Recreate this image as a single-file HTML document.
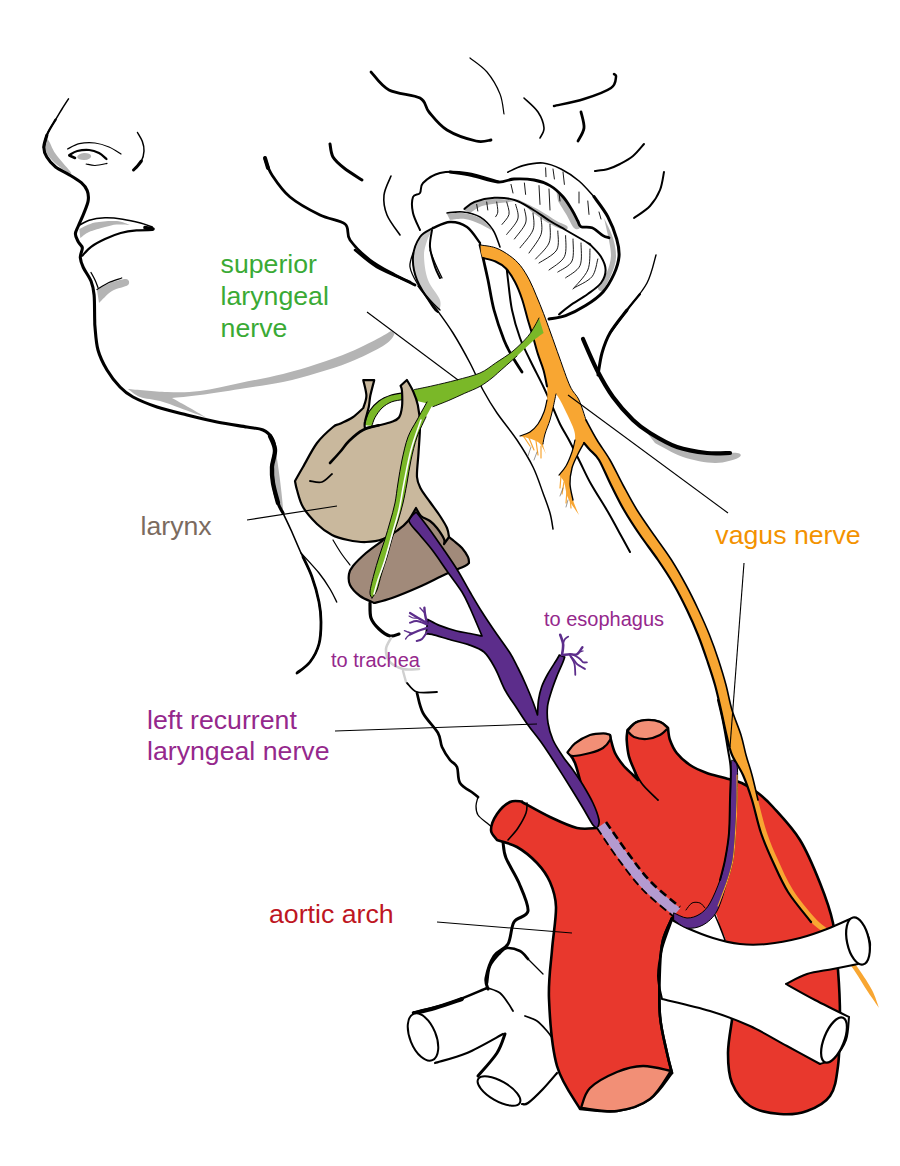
<!DOCTYPE html>
<html><head><meta charset="utf-8"><title>Recurrent laryngeal nerve</title>
<style>
html,body{margin:0;padding:0;background:#fff;}
body{width:900px;height:1166px;overflow:hidden;}
svg{display:block;}
text{font-family:"Liberation Sans",sans-serif;}
path{stroke-linecap:round;stroke-linejoin:round;}
</style></head><body>
<svg width="900" height="1166" viewBox="0 0 900 1166">
<rect width="900" height="1166" fill="#fff"/>
<path d="M46.5 137.0C46.2 138.8 44.4 144.5 45.0 148.0C45.6 151.5 47.3 154.7 50.0 158.0C52.7 161.3 57.4 165.4 61.0 168.0C64.6 170.6 71.2 174.3 71.5 173.5C71.8 172.7 65.8 166.4 63.0 163.0C60.2 159.6 57.2 156.3 55.0 153.0C52.8 149.7 50.8 144.7 50.0 143.0Z" fill="#b4b4b4" stroke="none" stroke-width="0" />
<path d="M79.3 229.0C81.9 227.9 88.8 223.8 95.0 222.5C101.2 221.2 111.0 220.6 116.8 221.0C122.6 221.4 127.8 224.3 130.0 225.0L130.0 225.0C127.8 224.9 121.0 224.2 116.8 224.5C112.6 224.8 109.6 225.8 105.0 227.0C100.4 228.2 93.1 230.2 89.0 232.0C84.9 233.8 81.8 237.0 80.3 238.0Z" fill="#b4b4b4" stroke="none" stroke-width="0" />
<path d="M97.0 290.0C99.2 288.8 105.2 284.8 110.0 283.0C114.8 281.2 123.0 278.7 126.0 279.0C129.0 279.3 130.3 283.0 128.0 285.0C125.7 287.0 116.8 288.0 112.0 291.0C107.2 294.0 101.2 301.0 99.0 303.0Z" fill="#b4b4b4" stroke="none" stroke-width="0" />
<path d="M128.0 389.0C134.5 389.5 155.0 391.7 167.0 392.0C179.0 392.3 187.8 392.5 200.0 391.0C212.2 389.5 226.2 385.8 240.0 383.0C253.8 380.2 270.2 377.2 283.0 374.0C295.8 370.8 305.8 367.7 317.0 364.0C328.2 360.3 340.0 356.2 350.0 352.0C360.0 347.8 370.2 342.5 377.0 339.0C383.8 335.5 388.7 332.3 391.0 331.0L391.0 331.0C391.5 331.7 395.3 332.5 394.0 335.0C392.7 337.5 390.3 341.5 383.0 346.0C375.7 350.5 361.0 357.5 350.0 362.0C339.0 366.5 328.2 369.7 317.0 373.0C305.8 376.3 295.8 379.3 283.0 382.0C270.2 384.7 253.8 386.8 240.0 389.0C226.2 391.2 211.3 393.5 200.0 395.0C188.7 396.5 176.7 397.5 172.0 398.0L172.0 398.0C175.0 399.7 184.2 404.7 190.0 408.0C195.8 411.3 204.2 416.3 207.0 418.0L207.0 418.0C202.5 416.3 187.8 410.8 180.0 408.0C172.2 405.2 166.7 402.8 160.0 401.0C153.3 399.2 145.3 399.0 140.0 397.0C134.7 395.0 130.0 390.3 128.0 389.0Z" fill="#b4b4b4" stroke="none" stroke-width="0" />
<path d="M276.0 452.0C276.7 456.7 278.8 470.0 280.0 480.0C281.2 490.0 283.5 508.7 283.0 512.0C282.5 515.3 278.7 505.7 277.0 500.0C275.3 494.3 273.7 481.7 273.0 478.0Z" fill="#b4b4b4" stroke="none" stroke-width="0" />
<path d="M648.0 434.0C652.8 436.3 667.2 444.7 677.0 448.0C686.8 451.3 697.0 453.2 707.0 454.0C717.0 454.8 731.8 452.3 737.0 453.0C742.2 453.7 741.7 456.3 738.0 458.0C734.3 459.7 724.2 463.2 715.0 463.0C705.8 462.8 693.0 460.3 683.0 457.0C673.0 453.7 659.7 445.3 655.0 443.0Z" fill="#b4b4b4" stroke="none" stroke-width="0" />
<path d="M68.5 98.9C67.4 100.6 64.2 105.5 62.0 109.0C59.9 112.5 57.5 116.4 55.6 119.6C53.7 122.8 52.0 125.4 50.5 128.0C49.0 130.6 47.9 132.2 46.8 135.4C45.7 138.6 44.3 145.2 43.8 147.2" fill="none" stroke="#000" stroke-width="1.5" />
<path d="M55.6 119.6C54.8 121.0 52.0 125.4 50.5 128.0C49.0 130.6 47.9 132.2 46.8 135.4C45.7 138.6 44.3 145.2 43.8 147.2" fill="none" stroke="#000" stroke-width="2.3" />
<path d="M46.8 135.4C46.3 137.4 43.8 143.6 43.8 147.2C43.8 150.8 44.8 153.7 46.8 157.0C48.8 160.3 51.8 164.0 55.6 167.0C59.4 170.0 65.1 172.2 69.4 174.8C73.7 177.4 78.3 180.1 81.3 182.7C84.3 185.3 86.0 187.6 87.2 190.6C88.4 193.6 88.7 196.9 88.2 200.5C87.7 204.1 85.9 208.1 84.2 212.3C82.5 216.6 79.8 222.4 78.3 226.0C76.8 229.6 75.4 231.3 75.4 234.0C75.4 236.7 77.2 239.6 78.3 241.9C79.4 244.2 82.0 245.2 82.3 247.8C82.6 250.4 80.1 254.4 80.3 257.7C80.5 261.0 81.5 263.6 83.3 267.5C85.1 271.4 89.3 276.7 91.1 281.3C92.9 285.9 93.5 288.6 94.1 295.0C94.7 301.4 94.5 314.7 94.7 320.0C94.9 325.3 94.5 322.0 95.0 327.0C95.5 332.0 96.0 342.8 98.0 350.0C100.0 357.2 103.3 363.8 107.0 370.0C110.7 376.2 115.7 382.5 120.0 387.0C124.3 391.5 126.8 393.7 133.0 397.0C139.2 400.3 148.0 404.0 157.0 407.0C166.0 410.0 177.0 412.5 187.0 415.0C197.0 417.5 207.0 420.0 217.0 422.0C227.0 424.0 239.3 425.7 247.0 427.0C254.7 428.3 258.8 428.2 263.0 430.0C267.2 431.8 270.0 434.7 272.0 438.0C274.0 441.3 275.0 445.2 275.0 450.0C275.0 454.8 272.3 461.5 272.0 467.0C271.7 472.5 272.0 477.0 273.0 483.0C274.0 489.0 276.3 498.0 278.0 503.0C279.7 508.0 282.2 511.3 283.0 513.0" fill="none" stroke="#000" stroke-width="3.1" />
<path d="M67.5 149.0C69.5 148.1 74.7 144.7 79.3 143.7C83.9 142.7 90.0 142.4 95.0 143.0C100.0 143.6 104.7 145.2 109.0 147.0C113.3 148.8 119.0 152.8 121.0 154.0" fill="none" stroke="#000" stroke-width="1.2" />
<path d="M69.4 155.0C70.7 154.3 74.0 151.8 77.3 151.0C80.6 150.2 85.6 149.7 89.2 150.0C92.8 150.3 96.1 151.5 99.0 153.0C101.9 154.5 105.2 158.0 106.5 159.0" fill="none" stroke="#000" stroke-width="2.2" />
<path d="M69.4 155.5L75.0 158.0" fill="none" stroke="#000" stroke-width="2.6" />
<path d="M86.2 164.0C87.7 164.2 91.5 165.6 95.0 165.5C98.5 165.4 105.0 163.8 107.0 163.4" fill="none" stroke="#000" stroke-width="1.2" />
<ellipse cx="84.2" cy="156.6" rx="7" ry="3.5" fill="#b4b4b4" transform="rotate(-3 84 157)"/>
<path d="M137.5 132.5C138.3 134.0 141.2 138.2 142.3 141.3C143.4 144.4 144.2 147.7 144.0 151.0C143.8 154.3 143.2 157.8 141.4 161.0C139.7 164.2 134.8 168.5 133.5 170.0" fill="none" stroke="#000" stroke-width="1.5" />
<path d="M141.4 161.0C140.8 161.8 138.8 164.5 137.5 166.0C136.2 167.5 134.2 169.3 133.5 170.0" fill="none" stroke="#000" stroke-width="3" />
<path d="M78.3 226.0C80.1 225.0 84.8 221.6 89.2 220.2C93.7 218.8 99.4 218.0 105.0 217.8C110.6 217.6 116.8 218.3 122.7 219.2C128.6 220.1 135.6 221.8 140.5 223.1C145.4 224.4 150.3 226.3 152.3 227.0" fill="none" stroke="#000" stroke-width="1.6" />
<path d="M152.3 230.0C149.7 230.1 141.8 229.9 136.5 230.4C131.2 230.9 126.0 231.6 120.7 233.0C115.5 234.4 109.9 236.7 105.0 239.0C100.1 241.3 94.9 244.0 91.1 246.8C87.3 249.6 83.8 254.2 82.3 255.7" fill="none" stroke="#000" stroke-width="2.2" />
<path d="M145.0 227.5L153.0 229.0" fill="none" stroke="#000" stroke-width="3.6" />
<path d="M91.0 272.5C91.7 273.8 93.8 277.5 95.0 280.0C96.2 282.5 97.5 286.2 98.0 287.5" fill="none" stroke="#000" stroke-width="1.3" />
<path d="M97.0 289.5C99.0 288.3 104.8 284.4 108.9 282.5C113.0 280.6 119.6 278.8 121.7 278.0" fill="none" stroke="#000" stroke-width="1.3" />
<path d="M270.0 436.0C270.8 438.3 274.7 444.8 275.0 450.0C275.3 455.2 272.3 461.5 272.0 467.0C271.7 472.5 272.0 477.0 273.0 483.0C274.0 489.0 277.2 499.7 278.0 503.0" fill="none" stroke="#000" stroke-width="4.4" />
<path d="M283.0 513.0C284.3 515.8 288.0 523.3 291.0 530.0C294.0 536.7 297.5 545.2 301.0 553.0C304.5 560.8 309.0 568.8 312.0 577.0C315.0 585.2 317.5 594.5 319.0 602.0C320.5 609.5 321.0 615.0 321.0 622.0C321.0 629.0 320.8 637.3 319.0 644.0C317.2 650.7 313.7 657.2 310.0 662.0C306.3 666.8 299.2 671.2 297.0 673.0" fill="none" stroke="#000" stroke-width="1.6" />
<path d="M303.0 557.0C304.5 560.3 309.3 569.5 312.0 577.0C314.7 584.5 317.5 594.5 319.0 602.0C320.5 609.5 321.0 615.0 321.0 622.0C321.0 629.0 320.8 637.3 319.0 644.0C317.2 650.7 313.7 657.2 310.0 662.0C306.3 666.8 299.2 671.2 297.0 673.0" fill="none" stroke="#000" stroke-width="2.8" />
<path d="M301.0 553.0C304.0 556.3 314.2 567.0 319.0 573.0C323.8 579.0 327.1 584.2 330.0 589.0C332.9 593.8 335.6 599.8 336.7 602.0" fill="none" stroke="#000" stroke-width="1.4" />
<path d="M333.0 540.0C334.3 542.2 338.2 548.8 341.0 553.0C343.8 557.2 348.5 563.0 350.0 565.0" fill="none" stroke="#000" stroke-width="1.2" />
<path d="M371.0 72.0C374.0 75.0 380.8 85.7 389.0 90.0C397.2 94.3 413.3 94.3 420.0 98.0C426.7 101.7 424.5 106.7 429.0 112.0C433.5 117.3 439.2 125.2 447.0 130.0C454.8 134.8 468.7 139.3 476.0 141.0C483.3 142.7 488.5 140.2 491.0 140.0" fill="none" stroke="#000" stroke-width="2.8" />
<path d="M470.0 58.0C472.8 60.3 482.0 66.0 487.0 72.0C492.0 78.0 497.2 87.0 500.0 94.0C502.8 101.0 503.3 110.7 504.0 114.0" fill="none" stroke="#000" stroke-width="1.2" />
<path d="M524.0 98.0C526.3 100.3 534.7 107.0 538.0 112.0C541.3 117.0 543.7 123.7 544.0 128.0C544.3 132.3 540.7 136.3 540.0 138.0" fill="none" stroke="#000" stroke-width="1.6" />
<path d="M554.0 106.0C559.0 104.8 574.5 102.0 584.0 99.0C593.5 96.0 605.7 91.7 611.0 88.0C616.3 84.3 615.5 79.3 616.0 77.0C616.5 74.7 614.3 74.5 614.0 74.0" fill="none" stroke="#000" stroke-width="2.5" />
<path d="M581.0 112.0C581.5 114.7 584.5 123.2 584.0 128.0C583.5 132.8 579.0 138.8 578.0 141.0" fill="none" stroke="#000" stroke-width="2.8" />
<path d="M595.0 171.0C597.2 170.7 603.8 170.2 608.0 169.0C612.2 167.8 615.8 166.2 620.0 164.0C624.2 161.8 629.0 159.3 633.0 156.0C637.0 152.7 642.2 146.0 644.0 144.0" fill="none" stroke="#000" stroke-width="2" />
<path d="M664.0 172.0C663.3 175.0 662.3 184.3 660.0 190.0C657.7 195.7 654.3 201.3 650.0 206.0C645.7 210.7 636.7 216.0 634.0 218.0" fill="none" stroke="#000" stroke-width="2" />
<path d="M656.0 255.0C654.5 259.7 651.8 273.8 647.0 283.0C642.2 292.2 633.2 301.7 627.0 310.0C620.8 318.3 614.2 325.8 610.0 333.0C605.8 340.2 604.0 346.0 602.0 353.0C600.0 360.0 598.7 371.3 598.0 375.0" fill="none" stroke="#000" stroke-width="1.4" />
<path d="M627.0 310.0C624.2 313.8 614.2 325.8 610.0 333.0C605.8 340.2 604.0 346.0 602.0 353.0C600.0 360.0 598.7 371.3 598.0 375.0" fill="none" stroke="#000" stroke-width="3" />
<path d="M640.0 294.0C637.8 296.7 632.0 303.5 627.0 310.0C622.0 316.5 612.8 329.2 610.0 333.0" fill="none" stroke="#000" stroke-width="2.2" />
<path d="M583.0 339.0C585.3 344.2 592.0 360.3 597.0 370.0C602.0 379.7 607.0 388.7 613.0 397.0C619.0 405.3 626.8 414.0 633.0 420.0C639.2 426.0 642.7 428.5 650.0 433.0C657.3 437.5 667.5 443.7 677.0 447.0C686.5 450.3 698.2 452.0 707.0 453.0C715.8 454.0 726.2 453.0 730.0 453.0" fill="none" stroke="#000" stroke-width="4.2" />
<path d="M330.0 144.0C330.5 146.2 330.7 153.0 333.0 157.0C335.3 161.0 339.2 164.2 344.0 168.0C348.8 171.8 359.0 178.0 362.0 180.0" fill="none" stroke="#000" stroke-width="3" />
<path d="M265.0 159.0C266.2 161.7 267.8 168.7 272.0 175.0C276.2 181.3 282.0 190.3 290.0 197.0C298.0 203.7 310.8 210.5 320.0 215.0C329.2 219.5 340.0 219.8 345.0 224.0C350.0 228.2 345.8 234.0 350.0 240.0C354.2 246.0 362.5 254.2 370.0 260.0C377.5 265.8 387.5 270.8 395.0 275.0C402.5 279.2 411.7 283.3 415.0 285.0" fill="none" stroke="#000" stroke-width="2.8" />
<path d="M265.0 158.0L268.0 168.0" fill="none" stroke="#000" stroke-width="4" />
<path d="M391.0 176.0C389.8 179.2 384.7 188.5 384.0 195.0C383.3 201.5 384.3 208.3 387.0 215.0C389.7 221.7 397.8 231.7 400.0 235.0" fill="none" stroke="#000" stroke-width="1.6" />
<path d="M500.0 182.0C494.5 180.5 477.0 174.5 467.0 173.0C457.0 171.5 447.3 171.3 440.0 173.0C432.7 174.7 426.3 179.7 423.0 183.0C419.7 186.3 421.7 190.7 420.0 193.0C418.3 195.3 414.2 193.7 413.0 197.0C411.8 200.3 411.8 207.5 413.0 213.0C414.2 218.5 418.8 227.2 420.0 230.0" fill="none" stroke="#000" stroke-width="2" />
<path d="M464.0 210.0C465.7 208.8 469.0 204.8 474.0 203.0C479.0 201.2 487.3 199.3 494.0 199.0C500.7 198.7 513.0 200.3 514.0 201.0C515.0 201.7 505.3 202.2 500.0 203.0C494.7 203.8 487.0 204.3 482.0 206.0C477.0 207.7 472.0 211.8 470.0 213.0Z" fill="#b4b4b4" stroke="none" stroke-width="0" />
<path d="M517.0 199.0C520.7 200.8 532.4 206.3 539.0 210.0C545.6 213.7 552.0 218.3 556.7 221.0C561.4 223.7 565.6 224.5 567.0 226.0C568.4 227.5 567.8 230.3 565.0 230.0C562.2 229.7 555.5 227.0 550.0 224.0C544.5 221.0 535.0 214.0 532.0 212.0Z" fill="#b4b4b4" stroke="none" stroke-width="0" />
<path d="M556.0 189.0C557.7 190.8 563.0 195.8 566.0 200.0C569.0 204.2 571.7 209.5 574.0 214.0C576.3 218.5 580.0 224.7 580.0 227.0C580.0 229.3 576.3 230.2 574.0 228.0C571.7 225.8 568.7 218.5 566.0 214.0C563.3 209.5 559.3 203.2 558.0 201.0Z" fill="#b4b4b4" stroke="none" stroke-width="0" />
<path d="M604.0 218.0C605.5 221.3 611.0 231.5 613.0 238.0C615.0 244.5 616.2 251.2 616.0 257.0C615.8 262.8 614.2 267.5 612.0 273.0C609.8 278.5 605.3 287.7 603.0 290.0C600.7 292.3 597.3 290.0 598.0 287.0C598.7 284.0 604.8 277.2 607.0 272.0C609.2 266.8 610.7 261.3 611.0 256.0C611.3 250.7 609.3 242.7 609.0 240.0Z" fill="#b4b4b4" stroke="none" stroke-width="0" />
<path d="M507.8 172.2C510.3 171.1 517.1 167.1 523.0 165.6C528.9 164.1 536.7 162.4 543.0 163.0C549.3 163.6 555.0 166.0 561.0 169.0C567.0 172.0 573.5 176.4 579.0 181.0C584.5 185.6 591.5 194.1 594.0 196.7" fill="none" stroke="#000" stroke-width="1.6" />
<path d="M594.0 196.7C596.3 200.0 604.0 209.6 607.8 216.7C611.6 223.8 614.8 232.3 616.7 239.0C618.6 245.7 619.5 250.9 619.0 256.7C618.5 262.5 616.7 268.1 614.0 274.0C611.3 279.9 607.7 286.7 603.0 292.0C598.3 297.3 591.8 301.7 585.6 305.6C579.4 309.5 571.7 313.4 565.6 315.6C559.5 317.8 551.8 318.4 549.0 319.0" fill="none" stroke="#000" stroke-width="3" />
<path d="M450.0 172.0C453.7 172.6 464.0 173.9 472.0 175.6C480.0 177.3 490.8 181.4 497.8 182.0C504.8 182.6 508.0 179.3 514.0 179.0C520.0 178.7 528.0 178.9 534.0 180.0C540.0 181.1 545.2 182.8 550.0 185.6C554.8 188.4 559.3 192.6 563.0 196.7C566.7 200.8 569.5 205.9 572.0 210.0C574.5 214.1 576.3 218.2 577.8 221.0C579.3 223.8 578.6 225.6 581.0 226.7C583.4 227.8 588.3 226.3 592.0 227.8C595.7 229.3 600.2 233.9 603.0 235.6C605.8 237.3 608.0 237.4 609.0 237.8" fill="none" stroke="#000" stroke-width="2.8" />
<path d="M464.4 209.0C466.1 207.8 469.4 203.9 474.4 202.0C479.4 200.1 487.7 198.1 494.4 197.8C501.1 197.5 508.1 198.1 514.4 200.0C520.7 201.9 526.1 205.5 532.0 209.0C537.9 212.5 544.4 217.5 550.0 221.0C555.6 224.5 560.1 226.8 565.6 230.0C571.1 233.2 578.9 237.6 583.0 240.0C587.1 242.4 588.8 243.7 590.0 244.4" fill="none" stroke="#000" stroke-width="2" />
<path d="M590.0 244.4C591.8 246.4 598.4 252.4 601.0 256.7C603.6 261.0 605.6 265.6 605.6 270.0C605.6 274.4 604.0 279.0 601.0 283.0C598.0 287.0 593.0 290.2 587.8 294.0C582.6 297.8 574.8 302.2 570.0 305.6C565.2 309.0 560.8 312.9 559.0 314.4" fill="none" stroke="#000" stroke-width="2" />
<path d="M476.7 204.4L477.8 211.0" fill="none" stroke="#000" stroke-width="0.9" />
<path d="M486.7 202.0L487.8 210.0" fill="none" stroke="#000" stroke-width="0.9" />
<path d="M496.7 202.0C496.9 203.7 498.0 209.6 497.8 212.0C497.6 214.4 496.0 215.9 495.6 216.7" fill="none" stroke="#000" stroke-width="0.9" />
<path d="M506.7 202.0C507.1 204.1 509.8 210.7 509.0 214.4C508.2 218.1 503.2 222.7 502.0 224.4" fill="none" stroke="#000" stroke-width="0.9" />
<path d="M515.6 204.4C516.0 206.8 519.3 214.0 517.8 219.0C516.3 224.0 508.5 231.8 506.7 234.4" fill="none" stroke="#000" stroke-width="0.9" />
<path d="M524.4 209.0C524.6 211.3 527.3 218.0 525.6 223.0C523.9 228.0 516.3 236.3 514.4 239.0" fill="none" stroke="#000" stroke-width="0.9" />
<path d="M533.0 213.0C533.0 215.8 535.2 224.2 533.0 230.0C530.8 235.8 522.2 244.8 520.0 247.8" fill="none" stroke="#000" stroke-width="0.9" />
<path d="M541.0 217.8C541.0 220.6 543.0 228.5 541.0 234.4C539.0 240.3 531.0 249.9 529.0 253.0" fill="none" stroke="#000" stroke-width="0.9" />
<path d="M550.0 224.4C549.8 227.5 551.4 237.2 549.0 243.0C546.6 248.8 537.8 256.3 535.6 259.0" fill="none" stroke="#000" stroke-width="0.9" />
<path d="M557.8 231.0C557.6 234.2 559.8 244.7 556.7 250.0C553.6 255.3 542.0 260.8 539.0 263.0" fill="none" stroke="#000" stroke-width="0.9" />
<path d="M565.6 235.6C565.4 239.1 567.2 251.0 564.4 256.7C561.6 262.4 551.6 267.8 549.0 270.0" fill="none" stroke="#000" stroke-width="0.9" />
<path d="M573.0 239.0C572.8 242.7 574.5 255.5 572.0 261.0C569.5 266.5 560.2 270.2 557.8 272.0" fill="none" stroke="#000" stroke-width="0.9" />
<path d="M581.0 243.0C580.8 246.8 582.6 259.8 580.0 265.6C577.4 271.4 568.0 275.8 565.6 277.8" fill="none" stroke="#000" stroke-width="0.9" />
<path d="M590.0 249.0C589.6 252.5 590.6 263.3 587.8 270.0C585.0 276.7 575.5 285.8 573.0 289.0" fill="none" stroke="#000" stroke-width="0.9" />
<path d="M597.8 259.0C596.8 261.9 595.9 271.9 592.0 276.7C588.1 281.5 577.3 285.9 574.4 287.8" fill="none" stroke="#000" stroke-width="0.9" />
<path d="M511.0 184.4L513.0 193.0" fill="none" stroke="#000" stroke-width="0.9" />
<path d="M524.4 183.0L525.6 194.4" fill="none" stroke="#000" stroke-width="0.9" />
<path d="M539.0 185.6L540.0 204.4" fill="none" stroke="#000" stroke-width="0.9" />
<path d="M549.0 189.0L550.0 210.0" fill="none" stroke="#000" stroke-width="0.9" />
<path d="M559.0 193.0L560.0 201.0" fill="none" stroke="#000" stroke-width="0.9" />
<path d="M545.6 167.8L546.0 176.7" fill="none" stroke="#000" stroke-width="0.9" />
<path d="M553.0 169.0L554.4 179.0" fill="none" stroke="#000" stroke-width="0.9" />
<path d="M563.0 172.0L564.4 184.4" fill="none" stroke="#000" stroke-width="0.9" />
<path d="M579.0 192.0L579.0 203.0" fill="none" stroke="#000" stroke-width="0.9" />
<path d="M587.8 201.0L589.0 214.4" fill="none" stroke="#000" stroke-width="0.9" />
<path d="M599.0 212.0L601.0 219.0" fill="none" stroke="#000" stroke-width="0.9" />
<path d="M433.0 229.0C431.0 230.3 424.2 232.3 421.0 237.0C417.8 241.7 414.7 249.8 414.0 257.0C413.3 264.2 413.8 271.7 417.0 280.0C420.2 288.3 429.5 301.7 433.0 307.0C436.5 312.3 436.8 313.2 438.0 312.0C439.2 310.8 441.7 305.3 440.0 300.0C438.3 294.7 430.7 287.5 428.0 280.0C425.3 272.5 424.0 262.0 424.0 255.0C424.0 248.0 427.3 240.8 428.0 238.0Z" fill="#c8c8c8" stroke="none" stroke-width="0" />
<path d="M433.0 228.0C430.8 229.5 423.3 232.2 420.0 237.0C416.7 241.8 413.5 249.8 413.0 257.0C412.5 264.2 413.7 271.7 417.0 280.0C420.3 288.3 429.5 301.7 433.0 307.0C436.5 312.3 437.2 311.2 438.0 312.0" fill="none" stroke="#000" stroke-width="2" />
<path d="M432.0 230.0C431.7 232.8 429.5 240.8 430.0 247.0C430.5 253.2 433.3 261.8 435.0 267.0C436.7 272.2 439.2 276.2 440.0 278.0" fill="none" stroke="#000" stroke-width="2" />
<path d="M433.0 228.0C435.8 227.0 444.3 222.2 450.0 222.0C455.7 221.8 462.0 223.5 467.0 227.0C472.0 230.5 477.8 240.3 480.0 243.0" fill="none" stroke="#000" stroke-width="2.4" />
<path d="M447.0 213.0C449.7 212.8 457.5 211.3 463.0 212.0C468.5 212.7 475.0 214.0 480.0 217.0C485.0 220.0 489.7 225.0 493.0 230.0C496.3 235.0 498.8 244.2 500.0 247.0" fill="none" stroke="#000" stroke-width="1.6" />
<path d="M447.0 214.0C449.7 213.8 457.5 212.3 463.0 213.0C468.5 213.7 475.2 215.2 480.0 218.0C484.8 220.8 492.0 229.0 492.0 230.0C492.0 231.0 484.5 225.8 480.0 224.0C475.5 222.2 470.0 219.7 465.0 219.0C460.0 218.3 452.5 219.8 450.0 220.0Z" fill="#b4b4b4" stroke="none" stroke-width="0" />
<path d="M418.0 286.0C419.7 288.2 424.8 295.0 428.0 299.0C431.2 303.0 432.8 304.3 437.0 310.0C441.2 315.7 447.5 324.2 453.0 333.0C458.5 341.8 465.0 353.5 470.0 363.0C475.0 372.5 478.5 381.7 483.0 390.0C487.5 398.3 491.3 404.7 497.0 413.0C502.7 421.3 511.0 431.0 517.0 440.0C523.0 449.0 528.7 458.2 533.0 467.0C537.3 475.8 540.2 485.3 543.0 493.0C545.8 500.7 548.3 507.0 550.0 513.0C551.7 519.0 552.5 526.3 553.0 529.0" fill="none" stroke="#000" stroke-width="1.5" />
<path d="M480.0 245.0C480.7 247.8 482.7 256.2 484.0 262.0C485.3 267.8 486.3 272.0 488.0 280.0C489.7 288.0 491.3 300.0 494.0 310.0C496.7 320.0 501.0 332.3 504.0 340.0C507.0 347.7 509.0 350.7 512.0 356.0C515.0 361.3 520.3 369.3 522.0 372.0" fill="none" stroke="#000" stroke-width="2.8" />
<path d="M506.0 262.0C506.3 265.0 507.0 272.0 508.0 280.0C509.0 288.0 510.0 300.3 512.0 310.0C514.0 319.7 517.0 329.7 520.0 338.0C523.0 346.3 526.0 351.7 530.0 360.0C534.0 368.3 540.2 380.0 544.0 388.0C547.8 396.0 550.3 402.0 553.0 408.0C555.7 414.0 557.2 418.3 560.0 424.0C562.8 429.7 566.7 435.7 570.0 442.0C573.3 448.3 576.5 455.0 580.0 462.0C583.5 469.0 586.3 475.7 591.0 484.0C595.7 492.3 603.3 504.0 608.0 512.0C612.7 520.0 615.3 525.3 619.0 532.0C622.7 538.7 628.2 548.7 630.0 552.0" fill="none" stroke="#000" stroke-width="2" />
<path d="M413.0 253.0C412.5 255.3 409.3 262.0 410.0 267.0C410.7 272.0 413.7 277.5 417.0 283.0C420.3 288.5 426.2 295.5 430.0 300.0C433.8 304.5 438.3 308.3 440.0 310.0" fill="none" stroke="#000" stroke-width="1.3" />
<path d="M430.0 250.0C430.8 252.2 433.0 258.3 435.0 263.0C437.0 267.7 440.8 275.5 442.0 278.0" fill="none" stroke="#000" stroke-width="1.3" />
<path d="M355.0 250.0C358.7 252.8 367.8 261.7 377.0 267.0C386.2 272.3 404.5 279.5 410.0 282.0" fill="none" stroke="#000" stroke-width="2.6" />
<path d="M370.0 603.0C370.2 605.5 369.5 613.7 371.0 618.0C372.5 622.3 375.8 626.0 379.0 629.0C382.2 632.0 386.7 635.2 390.0 636.0C393.3 636.8 397.5 634.3 399.0 634.0" fill="none" stroke="#000" stroke-width="3.2" />
<path d="M391.0 638.0C390.2 639.8 386.2 645.0 386.0 649.0C385.8 653.0 387.2 658.7 390.0 662.0C392.8 665.3 398.2 667.8 403.0 669.0C407.8 670.2 416.3 669.0 419.0 669.0" fill="none" stroke="#d0d0d0" stroke-width="2.6" />
<path d="M403.0 671.0L406.0 682.0" fill="none" stroke="#d0d0d0" stroke-width="2.4" />
<path d="M407.0 683.0C408.7 684.5 412.0 690.5 417.0 692.0C422.0 693.5 433.7 692.0 437.0 692.0" fill="none" stroke="#000" stroke-width="1.8" />
<path d="M417.0 693.0C418.0 696.3 419.5 706.3 423.0 713.0C426.5 719.7 434.8 727.3 438.0 733.0C441.2 738.7 440.0 742.5 442.0 747.0C444.0 751.5 447.5 756.7 450.0 760.0C452.5 763.3 455.3 763.2 457.0 767.0C458.7 770.8 457.3 778.7 460.0 783.0C462.7 787.3 470.0 790.7 473.0 793.0C476.0 795.3 477.2 796.3 478.0 797.0" fill="none" stroke="#000" stroke-width="2.7" />
<path d="M478.0 797.0C477.7 798.5 476.0 803.0 476.0 806.0C476.0 809.0 476.2 812.2 478.0 815.0C479.8 817.8 484.3 820.7 487.0 823.0C489.7 825.3 492.8 828.0 494.0 829.0" fill="none" stroke="#000" stroke-width="1.3" />
<path d="M503.0 842.0C503.5 844.7 503.3 851.2 506.0 858.0C508.7 864.8 515.3 874.2 519.0 883.0C522.7 891.8 528.8 904.5 528.0 911.0C527.2 917.5 517.3 916.5 514.0 922.0C510.7 927.5 511.3 938.3 508.0 944.0C504.7 949.7 497.7 950.3 494.0 956.0C490.3 961.7 487.0 972.5 486.0 978.0C485.0 983.5 487.7 987.2 488.0 989.0" fill="none" stroke="#000" stroke-width="3" />
<path d="M487.0 983.0C487.5 980.2 487.8 971.0 490.0 966.0C492.2 961.0 497.2 956.0 500.0 953.0C502.8 950.0 503.7 948.3 507.0 948.0C510.3 947.7 516.5 949.2 520.0 951.0C523.5 952.8 526.7 957.7 528.0 959.0" fill="none" stroke="#000" stroke-width="2.6" />
<path d="M528.0 959.0L543.0 974.0" fill="none" stroke="#000" stroke-width="1.3" />
<path d="M488.0 988.0C490.0 988.8 496.7 990.5 500.0 993.0C503.3 995.5 505.8 1000.0 508.0 1003.0C510.2 1006.0 512.2 1009.7 513.0 1011.0" fill="none" stroke="#000" stroke-width="1.8" />
<path d="M525.0 1016.0C527.0 1016.8 533.3 1018.5 537.0 1021.0C540.7 1023.5 544.3 1028.0 547.0 1031.0C549.7 1034.0 552.0 1037.7 553.0 1039.0" fill="none" stroke="#000" stroke-width="1.8" />
<path d="M413.0 1013.0C419.2 1011.3 437.7 1007.2 450.0 1003.0C462.3 998.8 480.8 990.5 487.0 988.0" fill="none" stroke="#000" stroke-width="2.6" />
<path d="M414.0 1013.0C417.5 1012.2 427.0 1010.3 435.0 1008.0C443.0 1005.7 457.5 1000.5 462.0 999.0" fill="none" stroke="#000" stroke-width="4" />
<ellipse cx="423" cy="1037" rx="13" ry="25" fill="#fff" stroke="#000" stroke-width="2" transform="rotate(-22 423 1037)"/>
<path d="M435.0 1063.0C440.3 1061.3 455.7 1057.8 467.0 1053.0C478.3 1048.2 497.0 1037.2 503.0 1034.0" fill="none" stroke="#000" stroke-width="2.2" />
<path d="M505.0 1034.0C503.7 1037.2 501.5 1046.0 497.0 1053.0C492.5 1060.0 481.2 1072.2 478.0 1076.0" fill="none" stroke="#000" stroke-width="3" />
<ellipse cx="499" cy="1091" rx="24" ry="10" fill="#fff" stroke="#000" stroke-width="2" transform="rotate(30 499 1091)"/>
<path d="M522.0 1104.0C523.0 1103.8 524.5 1105.5 528.0 1103.0C531.5 1100.5 538.2 1094.0 543.0 1089.0C547.8 1084.0 554.7 1075.7 557.0 1073.0" fill="none" stroke="#000" stroke-width="2.2" />
<path d="M580.0 1109.0C576.2 1101.8 562.2 1084.3 557.0 1066.0C551.8 1047.7 549.8 1018.3 549.0 999.0C548.2 979.7 550.8 965.3 552.0 950.0C553.2 934.7 556.3 918.3 556.0 907.0C555.7 895.7 553.2 889.3 550.0 882.0C546.8 874.7 542.5 868.8 537.0 863.0C531.5 857.2 523.7 850.8 517.0 847.0C510.3 843.2 500.3 841.2 497.0 840.0L497.0 840.0C496.0 838.3 491.0 834.3 491.0 830.0C491.0 825.7 493.8 818.7 497.0 814.0C500.2 809.3 505.8 804.1 510.0 802.0C514.2 799.9 520.0 801.6 522.0 801.5L522.0 802.0C526.7 804.5 540.8 812.7 550.0 817.0C559.2 821.3 569.2 826.2 577.0 828.0C584.8 829.8 593.7 828.0 597.0 828.0L597.0 828.0C594.7 821.7 586.7 800.8 583.0 790.0C579.3 779.2 577.5 769.3 575.0 763.0C572.5 756.7 569.2 753.8 568.0 752.0L568.0 752.0C569.7 750.3 573.3 744.8 578.0 742.0C582.7 739.2 590.7 736.2 596.0 735.0C601.3 733.8 607.7 735.0 610.0 735.0L610.0 735.0C610.2 735.8 610.2 737.0 611.0 740.0C611.8 743.0 613.0 748.8 615.0 753.0C617.0 757.2 620.0 761.3 623.0 765.0C626.0 768.7 630.5 772.5 633.0 775.0C635.5 777.5 637.2 779.2 638.0 780.0L638.0 780.0C637.5 778.6 636.5 775.6 635.0 771.7C633.5 767.8 630.4 762.0 629.0 756.7C627.6 751.4 627.0 744.5 626.7 740.0C626.5 735.5 627.4 731.7 627.5 730.0L627.5 730.0C628.9 728.8 632.6 724.2 636.0 722.5C639.4 720.8 644.0 720.1 648.0 720.0C652.0 719.9 656.7 720.7 660.0 722.0C663.3 723.3 666.7 727.0 668.0 728.0L668.0 728.0C668.3 730.0 668.5 735.8 670.0 740.0C671.5 744.2 673.4 748.8 676.7 753.0C680.0 757.2 685.0 761.7 690.0 765.0C695.0 768.3 700.9 770.8 706.7 773.0C712.5 775.2 719.2 776.3 725.0 778.0C730.8 779.7 736.2 780.5 741.7 783.0C747.2 785.5 752.8 789.0 758.0 793.0C763.2 797.0 766.0 799.2 773.0 807.0C780.0 814.8 792.2 827.3 800.0 840.0C807.8 852.7 814.5 869.2 820.0 883.0C825.5 896.8 830.0 908.5 833.0 923.0C836.0 937.5 836.8 954.5 838.0 970.0C839.2 985.5 840.0 1000.0 840.0 1016.0C840.0 1032.0 839.7 1052.7 838.0 1066.0C836.3 1079.3 835.2 1088.5 830.0 1096.0C824.8 1103.5 815.3 1108.0 807.0 1111.0C798.7 1114.0 789.5 1114.8 780.0 1114.0C770.5 1113.2 758.0 1111.2 750.0 1106.0C742.0 1100.8 735.7 1091.8 732.0 1083.0C728.3 1074.2 728.0 1063.5 728.0 1053.0C728.0 1042.5 731.3 1025.5 732.0 1020.0L732.0 1020.0C730.3 1010.0 724.8 974.2 722.0 960.0C719.2 945.8 716.2 939.2 715.0 935.0L715.0 935.0C711.7 933.3 702.2 927.8 695.0 925.0C687.8 922.2 675.8 919.2 672.0 918.0L672.0 918.0C670.5 921.7 665.0 931.8 663.0 940.0C661.0 948.2 660.5 954.3 660.0 967.0C659.5 979.7 658.8 1001.7 660.0 1016.0C661.2 1030.3 665.0 1043.5 667.0 1053.0C669.0 1062.5 671.2 1069.7 672.0 1073.0L672.0 1073.0C668.3 1077.3 659.2 1092.7 650.0 1099.0C640.8 1105.3 628.7 1109.3 617.0 1111.0C605.3 1112.7 586.2 1109.3 580.0 1109.0Z" fill="#e8382d" stroke="#000" stroke-width="2.6" />
<path d="M581.0 1108.0C582.5 1104.7 584.0 1094.0 590.0 1088.0C596.0 1082.0 608.2 1075.7 617.0 1072.0C625.8 1068.3 634.0 1066.2 643.0 1066.0C652.0 1065.8 666.3 1070.2 671.0 1071.0L671.0 1071.0C667.5 1075.7 659.0 1092.3 650.0 1099.0C641.0 1105.7 628.5 1109.5 617.0 1111.0C605.5 1112.5 587.0 1108.5 581.0 1108.0Z" fill="#f28f76" stroke="#000" stroke-width="2.4" />
<path d="M567.5 752.5C568.8 751.0 571.2 746.2 575.0 743.3C578.8 740.4 585.3 736.7 590.0 735.0C594.7 733.3 600.0 733.3 603.3 733.3C606.6 733.3 608.9 734.7 610.0 735.0L610.0 735.0C610.0 735.8 611.2 737.8 610.0 740.0C608.8 742.2 606.3 745.8 603.0 748.0C599.7 750.2 595.0 751.7 590.0 753.0C585.0 754.3 576.8 756.1 573.0 756.0C569.2 755.9 568.4 753.1 567.5 752.5Z" fill="#f28f76" stroke="#000" stroke-width="2.2" />
<path d="M627.5 731.0C628.9 729.6 632.6 724.3 636.0 722.5C639.4 720.7 644.0 720.1 648.0 720.0C652.0 719.9 656.7 720.7 660.0 722.0C663.3 723.3 666.7 727.0 668.0 728.0L668.0 728.0C666.7 729.2 663.5 733.2 660.0 735.0C656.5 736.8 651.0 738.7 646.7 739.0C642.4 739.3 637.2 738.3 634.0 737.0C630.8 735.7 628.6 732.0 627.5 731.0Z" fill="#f28f76" stroke="#000" stroke-width="2.2" />
<path d="M527.0 803.0C526.8 804.7 527.5 808.8 526.0 813.0C524.5 817.2 521.0 823.5 518.0 828.0C515.0 832.5 509.7 838.0 508.0 840.0" fill="none" stroke="#000" stroke-width="1.6" />
<path d="M635.0 772.0C636.3 774.2 639.2 780.3 643.0 785.0C646.8 789.7 655.5 797.5 658.0 800.0" fill="none" stroke="#000" stroke-width="1.8" />
<path d="M480.4 245.0C482.9 245.5 490.6 246.0 495.5 247.8C500.4 249.6 505.7 252.8 509.8 255.8C514.0 258.8 517.1 261.6 520.4 265.6C523.6 269.6 526.6 274.8 529.3 279.8C532.0 284.8 534.0 290.2 536.4 295.8C538.8 301.4 541.2 307.4 543.6 313.6C546.0 319.8 548.0 325.6 550.7 333.0C553.4 340.4 556.4 349.2 559.6 358.0C562.8 366.8 566.8 379.0 570.0 386.0C573.2 393.0 576.3 394.3 579.0 400.0C581.7 405.7 583.0 413.3 586.0 420.0C589.0 426.7 593.0 433.3 597.0 440.0C601.0 446.7 605.7 452.5 610.0 460.0C614.3 467.5 618.5 476.7 623.0 485.0C627.5 493.3 631.8 501.7 637.0 510.0C642.2 518.3 648.2 526.7 654.0 535.0C659.8 543.3 666.2 551.7 671.5 560.0C676.8 568.3 681.5 576.7 686.0 585.0C690.5 593.3 694.6 601.7 698.5 610.0C702.4 618.3 706.2 626.7 709.5 635.0C712.8 643.3 715.8 651.7 718.5 660.0C721.2 668.3 723.8 676.7 726.0 685.0C728.2 693.3 729.5 701.7 732.0 710.0C734.5 718.3 738.7 727.5 741.0 735.0C743.3 742.5 744.2 748.3 746.0 755.0C747.8 761.7 750.0 767.5 752.0 775.0C754.0 782.5 755.5 790.3 758.0 800.0C760.5 809.7 763.7 823.0 767.0 833.0C770.3 843.0 773.7 850.5 778.0 860.0C782.3 869.5 786.8 880.3 793.0 890.0C799.2 899.7 808.0 910.3 815.0 918.0C822.0 925.7 827.8 927.7 835.0 936.0C842.2 944.3 851.8 959.0 858.0 968.0C864.2 977.0 868.5 983.3 872.0 990.0C875.5 996.7 877.8 1005.0 879.0 1008.0L879.0 1008.0C877.2 1005.3 872.2 998.3 868.0 992.0C863.8 985.7 860.0 978.7 854.0 970.0C848.0 961.3 839.2 948.0 832.0 940.0C824.8 932.0 818.3 930.0 811.0 922.0C803.7 914.0 794.3 902.0 788.0 892.0C781.7 882.0 777.5 871.8 773.0 862.0C768.5 852.2 764.5 843.3 761.0 833.0C757.5 822.7 755.0 809.7 752.0 800.0C749.0 790.3 746.3 782.5 743.0 775.0C739.7 767.5 734.8 761.7 732.0 755.0C729.2 748.3 728.3 742.5 726.5 735.0C724.7 727.5 722.9 718.3 721.0 710.0C719.1 701.7 717.3 693.3 715.0 685.0C712.7 676.7 709.8 668.3 707.0 660.0C704.2 651.7 701.3 643.3 698.0 635.0C694.7 626.7 691.0 618.3 687.0 610.0C683.0 601.7 678.8 593.3 674.0 585.0C669.2 576.7 663.7 568.3 658.0 560.0C652.3 551.7 645.7 543.3 640.0 535.0C634.3 526.7 628.8 518.3 624.0 510.0C619.2 501.7 615.2 493.3 611.0 485.0C606.8 476.7 602.5 465.8 599.0 460.0C595.5 454.2 592.5 452.8 590.0 450.0C587.5 447.2 585.0 444.2 584.0 443.0L584.0 443.0C583.0 444.8 580.0 449.8 578.0 454.0C576.0 458.2 573.3 463.0 572.0 468.0C570.7 473.0 569.8 478.7 570.0 484.0C570.2 489.3 571.5 494.8 573.0 500.0C574.5 505.2 578.0 512.5 579.0 515.0L579.0 515.0C577.2 512.2 570.5 503.5 568.0 498.0C565.5 492.5 565.5 485.8 564.0 482.0C562.5 478.2 559.8 476.2 559.0 475.0L559.0 475.0C560.2 473.5 563.8 469.8 566.0 466.0C568.2 462.2 570.5 456.3 572.0 452.0C573.5 447.7 574.7 443.7 575.0 440.0C575.3 436.3 575.2 434.0 574.0 430.0C572.8 426.0 570.3 421.0 568.0 416.0C565.7 411.0 562.0 403.7 560.0 400.0C558.0 396.3 556.7 395.0 556.0 394.0L556.0 394.0C555.5 396.3 554.0 403.7 553.0 408.0C552.0 412.3 551.3 415.7 550.0 420.0C548.7 424.3 546.2 430.0 545.0 434.0C543.8 438.0 542.8 440.7 543.0 444.0C543.2 447.3 545.5 452.3 546.0 454.0L546.0 454.0C544.7 452.0 542.3 445.0 538.0 442.0C533.7 439.0 523.0 437.0 520.0 436.0L520.0 436.0C521.7 435.3 527.0 434.0 530.0 432.0C533.0 430.0 535.7 427.3 538.0 424.0C540.3 420.7 542.5 416.0 544.0 412.0C545.5 408.0 546.5 404.3 547.0 400.0C547.5 395.7 547.6 391.3 547.0 386.4C546.4 381.5 545.1 375.7 543.6 370.4C542.1 365.1 539.8 360.0 538.0 354.4C536.2 348.8 534.7 342.6 533.0 336.7C531.3 330.8 529.4 325.3 527.6 319.0C525.8 312.7 524.1 305.2 522.0 299.0C519.9 292.8 517.7 286.8 515.0 281.6C512.3 276.4 509.2 271.4 506.0 268.0C502.8 264.6 499.3 262.7 495.5 261.0C491.7 259.3 485.5 260.3 483.0 257.6C480.5 254.9 480.8 247.1 480.4 245.0Z" fill="#f8a632" stroke="none" stroke-width="0" />
<path d="M483.0 258.0C485.1 258.6 491.7 259.8 495.5 261.5C499.3 263.2 502.8 265.1 506.0 268.5C509.2 271.9 512.3 276.9 515.0 282.0C517.7 287.1 519.9 292.8 522.0 299.0C524.1 305.2 525.8 312.7 527.6 319.0C529.4 325.3 531.3 330.8 533.0 336.7C534.7 342.6 536.2 348.8 538.0 354.4C539.8 360.0 542.1 365.1 543.6 370.4C545.1 375.7 546.4 383.7 547.0 386.4" fill="none" stroke="#000" stroke-width="2" />
<path d="M480.4 245.0C482.9 245.5 490.6 246.0 495.5 247.8C500.4 249.6 505.7 252.8 509.8 255.8C514.0 258.8 517.1 261.6 520.4 265.6C523.6 269.6 526.6 274.8 529.3 279.8C532.0 284.8 534.0 290.2 536.4 295.8C538.8 301.4 541.2 307.4 543.6 313.6C546.0 319.8 548.0 325.6 550.7 333.0C553.4 340.4 556.4 349.2 559.6 358.0C562.8 366.8 566.8 379.0 570.0 386.0C573.2 393.0 576.3 394.3 579.0 400.0C581.7 405.7 584.8 416.7 586.0 420.0" fill="none" stroke="#000" stroke-width="1" />
<path d="M811.0 922.0C807.2 917.0 794.3 902.0 788.0 892.0C781.7 882.0 777.5 871.8 773.0 862.0C768.5 852.2 764.5 843.3 761.0 833.0C757.5 822.7 755.0 809.7 752.0 800.0C749.0 790.3 746.3 782.5 743.0 775.0C739.7 767.5 734.8 761.7 732.0 755.0C729.2 748.3 728.3 742.5 726.5 735.0C724.7 727.5 722.9 718.3 721.0 710.0C719.1 701.7 717.3 693.3 715.0 685.0C712.7 676.7 709.8 668.3 707.0 660.0C704.2 651.7 701.3 643.3 698.0 635.0C694.7 626.7 691.0 618.3 687.0 610.0C683.0 601.7 678.8 593.3 674.0 585.0C669.2 576.7 663.7 568.3 658.0 560.0C652.3 551.7 645.7 543.3 640.0 535.0C634.3 526.7 628.8 518.3 624.0 510.0C619.2 501.7 615.2 493.3 611.0 485.0C606.8 476.7 602.5 465.8 599.0 460.0C595.5 454.2 592.5 452.8 590.0 450.0C587.5 447.2 585.0 444.2 584.0 443.0" fill="none" stroke="#000" stroke-width="2.2" />
<path d="M586.0 420.0C587.8 423.3 593.0 433.3 597.0 440.0C601.0 446.7 605.7 452.5 610.0 460.0C614.3 467.5 618.5 476.7 623.0 485.0C627.5 493.3 631.8 501.7 637.0 510.0C642.2 518.3 648.2 526.7 654.0 535.0C659.8 543.3 666.2 551.7 671.5 560.0C676.8 568.3 681.5 576.7 686.0 585.0C690.5 593.3 694.6 601.7 698.5 610.0C702.4 618.3 706.2 626.7 709.5 635.0C712.8 643.3 715.8 651.7 718.5 660.0C721.2 668.3 723.8 676.7 726.0 685.0C728.2 693.3 729.5 701.7 732.0 710.0C734.5 718.3 738.7 727.5 741.0 735.0C743.3 742.5 744.2 748.3 746.0 755.0C747.8 761.7 750.0 767.5 752.0 775.0C754.0 782.5 757.0 795.8 758.0 800.0" fill="none" stroke="#000" stroke-width="1.6" />
<path d="M547.0 400.0C546.5 402.0 545.5 408.0 544.0 412.0C542.5 416.0 540.3 420.7 538.0 424.0C535.7 427.3 533.0 430.0 530.0 432.0C527.0 434.0 521.7 435.3 520.0 436.0" fill="none" stroke="#000" stroke-width="1.2" />
<path d="M556.0 394.0C555.5 396.3 554.0 403.7 553.0 408.0C552.0 412.3 551.3 415.7 550.0 420.0C548.7 424.3 546.2 430.0 545.0 434.0C543.8 438.0 543.3 442.3 543.0 444.0" fill="none" stroke="#000" stroke-width="1" />
<path d="M575.0 440.0C574.5 442.0 573.5 447.7 572.0 452.0C570.5 456.3 568.2 462.2 566.0 466.0C563.8 469.8 560.2 473.5 559.0 475.0" fill="none" stroke="#000" stroke-width="1.2" />
<path d="M584.0 443.0C583.0 444.8 580.0 449.8 578.0 454.0C576.0 458.2 573.3 463.0 572.0 468.0C570.7 473.0 569.8 478.7 570.0 484.0C570.2 489.3 572.5 497.3 573.0 500.0" fill="none" stroke="#000" stroke-width="1.4" />
<path d="M524.0 437.0L530.0 446.0" fill="none" stroke="#f8a632" stroke-width="1.2" />
<path d="M529.0 438.0L534.0 450.0" fill="none" stroke="#f8a632" stroke-width="1.2" />
<path d="M536.0 441.0L538.0 455.0" fill="none" stroke="#f8a632" stroke-width="1.2" />
<path d="M541.0 446.0L541.0 458.0" fill="none" stroke="#f8a632" stroke-width="1.2" />
<path d="M561.0 476.0L560.0 488.0" fill="none" stroke="#f8a632" stroke-width="1.2" />
<path d="M564.0 482.0L562.0 494.0" fill="none" stroke="#f8a632" stroke-width="1.2" />
<path d="M567.0 490.0L566.0 503.0" fill="none" stroke="#f8a632" stroke-width="1.2" />
<path d="M570.0 498.0L571.0 508.0" fill="none" stroke="#f8a632" stroke-width="1.2" />
<path d="M531.0 447.0L528.0 456.0" fill="none" stroke="#555" stroke-width="0.6" />
<path d="M537.0 452.0L534.0 460.0" fill="none" stroke="#555" stroke-width="0.6" />
<path d="M563.0 488.0L560.0 496.0" fill="none" stroke="#555" stroke-width="0.6" />
<path d="M568.0 500.0L566.0 507.0" fill="none" stroke="#555" stroke-width="0.6" />
<path d="M686.0 924.0C688.3 923.3 695.3 922.0 700.0 920.0C704.7 918.0 710.7 910.8 714.0 912.0C717.3 913.2 718.2 922.2 720.0 927.0C721.8 931.8 727.3 939.5 725.0 941.0C722.7 942.5 712.5 938.0 706.0 936.0C699.5 934.0 689.3 930.2 686.0 929.0Z" fill="#fff" stroke="none" stroke-width="0" />
<path d="M714.0 913.0C715.0 915.3 718.2 922.5 720.0 927.0C721.8 931.5 724.2 937.8 725.0 940.0" fill="none" stroke="#000" stroke-width="1.6" />
<path d="M672.0 920.0C674.5 921.3 680.2 925.0 687.0 928.0C693.8 931.0 704.2 935.3 713.0 938.0C721.8 940.7 731.0 943.0 740.0 944.0C749.0 945.0 757.0 945.0 767.0 944.0C777.0 943.0 790.0 940.5 800.0 938.0C810.0 935.5 818.7 932.2 827.0 929.0C835.3 925.8 846.2 920.7 850.0 919.0L850.0 919.0C852.0 920.0 858.7 921.0 862.0 925.0C865.3 929.0 869.3 937.5 870.0 943.0C870.7 948.5 868.0 954.5 866.0 958.0C864.0 961.5 859.3 963.0 858.0 964.0L858.0 964.0C853.8 964.8 841.5 967.3 833.0 969.0C824.5 970.7 814.8 971.5 807.0 974.0C799.2 976.5 789.5 982.3 786.0 984.0L786.0 984.0C790.8 986.7 804.5 994.5 815.0 1000.0C825.5 1005.5 843.3 1014.2 849.0 1017.0L849.0 1017.0C848.5 1020.8 848.5 1033.2 846.0 1040.0C843.5 1046.8 838.3 1054.0 834.0 1058.0C829.7 1062.0 822.3 1063.0 820.0 1064.0L820.0 1064.0C814.5 1061.0 798.7 1052.3 787.0 1046.0C775.3 1039.7 762.8 1031.8 750.0 1026.0C737.2 1020.2 724.7 1015.5 710.0 1011.0C695.3 1006.5 670.0 1001.0 662.0 999.0L662.0 999.0C661.3 995.2 658.0 984.3 658.0 976.0C658.0 967.7 659.7 958.3 662.0 949.0C664.3 939.7 670.3 924.8 672.0 920.0Z" fill="#fff" stroke="#000" stroke-width="2" />
<ellipse cx="858" cy="941" rx="11" ry="24" fill="#fff" stroke="#000" stroke-width="2.2" transform="rotate(-12 858 941)"/>
<ellipse cx="834" cy="1040" rx="10" ry="24" fill="#fff" stroke="#000" stroke-width="2.2" transform="rotate(22 834 1040)"/>
<path d="M672.0 918.0C670.5 921.7 665.0 931.8 663.0 940.0C661.0 948.2 660.5 954.3 660.0 967.0C659.5 979.7 658.8 1001.7 660.0 1016.0C661.2 1030.3 665.0 1043.5 667.0 1053.0C669.0 1062.5 671.2 1069.7 672.0 1073.0" fill="none" stroke="#000" stroke-width="2.6" />
<path d="M382.0 541.0C379.3 543.0 370.8 548.8 366.0 553.0C361.2 557.2 355.8 562.5 353.0 566.0C350.2 569.5 349.5 570.8 349.0 574.0C348.5 577.2 348.2 581.3 350.0 585.0C351.8 588.7 356.0 593.0 360.0 596.0C364.0 599.0 371.7 601.8 374.0 603.0L374.0 603.0C377.0 602.2 384.5 600.7 392.0 598.0C399.5 595.3 410.0 591.0 419.0 587.0C428.0 583.0 438.3 577.5 446.0 574.0C453.7 570.5 461.2 567.8 465.0 566.0C468.8 564.2 468.3 563.5 469.0 563.0L469.0 563.0C468.8 562.0 469.2 559.5 468.0 557.0C466.8 554.5 464.3 550.7 462.0 548.0C459.7 545.3 456.2 542.8 454.0 541.0C451.8 539.2 449.8 537.7 449.0 537.0L449.0 537.0C445.8 532.2 437.3 511.7 430.0 508.0C422.7 504.3 413.0 509.5 405.0 515.0C397.0 520.5 385.8 536.7 382.0 541.0Z" fill="#a18a7a" stroke="#000" stroke-width="2.2" />
<path d="M416.0 512.0C414.8 513.5 408.5 517.3 409.0 521.0C409.5 524.7 415.0 529.0 419.0 534.0C423.0 539.0 428.3 544.8 433.0 551.0C437.7 557.2 442.2 564.2 447.0 571.0C451.8 577.8 458.2 585.8 462.0 592.0C465.8 598.2 466.7 600.7 470.0 608.0C473.3 615.3 480.0 631.3 482.0 636.0L482.0 636.0C480.0 635.6 474.2 634.3 470.0 633.5C465.8 632.7 461.7 632.3 456.7 631.0C451.7 629.7 444.8 627.5 440.0 625.6C435.2 623.7 429.8 620.4 427.8 619.4L427.8 619.4L426.0 634.0L426.0 634.0C427.0 634.1 427.8 633.4 432.0 634.4C436.2 635.4 445.0 638.3 451.0 640.0C457.0 641.7 462.3 642.4 467.8 644.4C473.3 646.4 479.5 648.1 484.0 652.0C488.5 655.9 491.5 661.7 495.0 668.0C498.5 674.3 501.4 683.3 505.0 690.0C508.6 696.7 512.9 702.2 516.7 708.0C520.5 713.8 523.8 719.2 528.0 725.0C532.2 730.8 537.2 736.7 541.7 743.0C546.2 749.3 550.3 755.7 555.0 763.0C559.7 770.3 565.3 779.2 570.0 786.7C574.7 794.2 579.2 801.6 583.0 808.0C586.8 814.4 590.6 821.7 593.0 825.0C595.4 828.3 596.8 827.5 597.5 828.0L597.5 828.0C597.8 826.7 599.8 824.2 599.0 820.0C598.2 815.8 595.7 808.8 593.0 803.0C590.3 797.2 586.3 790.5 583.0 785.0C579.7 779.5 576.3 774.7 573.0 770.0C569.7 765.3 566.3 761.7 563.0 756.7C559.7 751.7 555.5 745.6 553.0 740.0C550.5 734.4 548.9 728.5 548.0 723.0C547.1 717.5 547.0 711.9 547.5 706.7C548.0 701.5 549.8 696.7 551.3 691.7C552.8 686.7 554.8 681.5 556.7 676.6C558.6 671.7 561.6 665.6 562.9 662.3C564.2 659.0 564.4 657.9 564.7 657.0L564.7 657.0L559.3 655.0L559.3 655.0C558.9 655.8 558.6 656.5 556.7 659.7C554.8 662.9 550.3 669.5 547.8 674.0C545.3 678.5 543.1 682.7 541.6 687.0C540.1 691.3 539.2 695.3 538.5 700.0C537.8 704.7 537.7 712.5 537.5 715.0L537.5 715.0C536.8 712.8 534.9 707.0 533.0 702.0C531.1 697.0 528.5 690.7 526.0 685.0C523.5 679.3 520.7 673.3 518.0 668.0C515.3 662.7 513.7 658.8 510.0 653.0C506.3 647.2 500.7 639.8 496.0 633.0C491.3 626.2 486.3 618.8 482.0 612.0C477.7 605.2 474.0 598.8 470.0 592.0C466.0 585.2 462.3 578.0 458.0 571.0C453.7 564.0 448.7 556.8 444.0 550.0C439.3 543.2 434.5 536.2 430.0 530.0C425.5 523.8 419.2 515.8 417.0 513.0Z" fill="#5c2d8b" stroke="#000" stroke-width="1.7" />
<path d="M426.5 621.0C426.2 619.8 425.4 616.2 425.0 614.0C424.6 611.8 424.5 608.8 424.4 607.8" fill="none" stroke="#5c2d8b" stroke-width="2.4" />
<path d="M425.0 613.0C424.5 612.5 422.8 610.9 422.0 610.0C421.2 609.1 420.3 608.2 420.0 607.8" fill="none" stroke="#5c2d8b" stroke-width="1.4" />
<path d="M427.0 623.0C425.5 622.1 420.6 619.5 417.8 617.8C415.0 616.1 411.3 613.8 410.0 613.0" fill="none" stroke="#5c2d8b" stroke-width="2.2" />
<path d="M418.0 618.0C417.2 618.0 414.5 618.3 413.0 618.0C411.5 617.7 409.7 616.3 409.0 616.0" fill="none" stroke="#5c2d8b" stroke-width="1.2" />
<path d="M427.0 624.5C425.3 623.9 419.5 621.3 416.7 621.0C413.9 620.7 411.1 622.5 410.0 622.8" fill="none" stroke="#5c2d8b" stroke-width="2" />
<path d="M427.0 628.0C425.5 628.5 420.6 629.9 417.8 631.0C415.0 632.1 411.3 633.8 410.0 634.4" fill="none" stroke="#5c2d8b" stroke-width="2.4" />
<path d="M412.0 633.5C411.3 633.2 409.3 632.5 408.0 632.0C406.7 631.5 405.0 630.8 404.4 630.6" fill="none" stroke="#5c2d8b" stroke-width="1.4" />
<path d="M412.0 633.5C411.3 633.9 409.1 635.1 408.0 636.0C406.9 636.9 406.0 638.5 405.6 639.0" fill="none" stroke="#5c2d8b" stroke-width="1.4" />
<path d="M427.0 632.0C426.2 633.2 423.7 637.5 422.0 639.0C420.3 640.5 417.6 640.7 416.7 641.0" fill="none" stroke="#5c2d8b" stroke-width="2" />
<path d="M562.0 655.0C562.2 653.8 562.9 650.0 563.0 648.0C563.1 646.0 563.4 645.0 562.9 642.8C562.4 640.6 560.7 636.1 560.2 634.8" fill="none" stroke="#5c2d8b" stroke-width="2.6" />
<path d="M562.9 643.5C563.2 642.8 564.1 640.1 565.0 639.0C565.9 637.9 567.7 637.0 568.2 636.6" fill="none" stroke="#5c2d8b" stroke-width="1.8" />
<path d="M563.0 655.0C564.2 654.9 567.7 654.4 570.0 654.3C572.3 654.2 574.9 655.5 577.0 654.3C579.1 653.1 581.5 648.4 582.4 647.2" fill="none" stroke="#5c2d8b" stroke-width="2.4" />
<path d="M577.0 654.3C577.5 653.9 579.0 652.5 580.0 652.0C581.0 651.5 582.5 651.2 583.0 651.0" fill="none" stroke="#5c2d8b" stroke-width="1.3" />
<path d="M574.0 655.0C575.0 655.7 578.5 657.8 580.0 659.0C581.5 660.2 582.1 661.8 583.3 662.3C584.4 662.8 586.3 662.3 586.9 662.3" fill="none" stroke="#5c2d8b" stroke-width="1.8" />
<path d="M570.0 655.5C570.7 656.2 572.8 658.6 574.0 660.0C575.2 661.4 575.2 662.5 577.0 664.0C578.8 665.5 583.7 668.2 585.0 669.0" fill="none" stroke="#5c2d8b" stroke-width="1.8" />
<path d="M571.0 657.0C571.6 658.2 573.8 661.0 574.5 664.0C575.2 667.0 575.2 673.0 575.3 674.8" fill="none" stroke="#5c2d8b" stroke-width="1.8" />
<path d="M601.5 825.0C605.1 830.2 615.4 845.8 623.0 856.0C630.6 866.2 638.0 876.7 647.0 886.0C656.0 895.3 672.0 907.7 677.0 912.0" fill="none" stroke="#b49ad0" stroke-width="10" style="stroke-linecap:butt"/>
<path d="M597.0 828.0C600.6 833.2 610.8 849.2 618.5 859.5C626.2 869.8 633.8 880.4 643.0 890.0C652.2 899.6 668.8 912.5 674.0 917.0" fill="none" stroke="#000" stroke-width="1.8" stroke-dasharray="8 4.5" style="stroke-linecap:butt"/>
<path d="M606.0 822.0C609.6 827.1 620.0 842.5 627.5 852.5C635.0 862.5 642.2 872.9 651.0 882.0C659.8 891.1 675.2 902.8 680.0 907.0" fill="none" stroke="#000" stroke-width="2.6" stroke-dasharray="8 4.5" style="stroke-linecap:butt"/>
<path d="M674.0 913.0C676.2 913.8 682.7 917.8 687.0 918.0C691.3 918.2 696.2 916.5 700.0 914.0C703.8 911.5 706.7 908.7 710.0 903.0C713.3 897.3 717.5 887.2 720.0 880.0C722.5 872.8 723.5 867.8 725.0 860.0C726.5 852.2 728.2 843.0 729.0 833.0C729.8 823.0 729.7 810.5 730.0 800.0C730.3 789.5 730.5 776.7 730.8 770.0C731.1 763.3 731.6 761.7 731.7 760.0L731.7 760.0C732.2 760.3 734.0 760.3 735.0 762.0C736.0 763.7 737.2 763.7 737.5 770.0C737.8 776.3 737.3 789.5 737.0 800.0C736.7 810.5 736.2 823.0 735.5 833.0C734.8 843.0 734.4 851.8 733.0 860.0C731.6 868.2 729.7 873.5 727.0 882.0C724.3 890.5 721.0 903.8 717.0 911.0C713.0 918.2 708.0 922.2 703.0 925.0C698.0 927.8 691.8 928.8 687.0 928.0C682.2 927.2 676.2 921.3 674.0 920.0Z" fill="#5c2d8b" stroke="#000" stroke-width="1" />
<path d="M718.0 700.0C718.8 703.6 721.3 713.4 723.0 721.7C724.7 730.0 726.7 742.0 728.0 750.0C729.3 758.0 730.5 761.7 730.8 770.0C731.1 778.3 730.3 789.5 730.0 800.0C729.7 810.5 729.8 823.0 729.0 833.0C728.2 843.0 726.5 852.2 725.0 860.0C723.5 867.8 720.8 876.7 720.0 880.0" fill="none" stroke="#000" stroke-width="2" />
<path d="M737.0 775.0C737.0 779.2 737.2 790.3 737.0 800.0C736.8 809.7 736.2 823.0 735.5 833.0C734.8 843.0 734.4 851.8 733.0 860.0C731.6 868.2 729.5 874.3 727.0 882.0C724.5 889.7 719.5 902.0 718.0 906.0" fill="none" stroke="#f8a632" stroke-width="1.1" />
<path d="M686.0 910.0C687.0 908.8 689.7 904.2 692.0 903.0C694.3 901.8 697.8 902.2 700.0 903.0C702.2 903.8 704.2 907.2 705.0 908.0" fill="none" stroke="#000" stroke-width="1" />
<path d="M539.0 318.0C538.3 319.3 536.6 322.9 534.7 326.0C532.8 329.1 531.2 332.5 527.6 336.7C524.0 340.9 518.3 346.6 513.0 351.0C507.7 355.4 501.1 359.3 495.6 363.0C490.1 366.7 486.5 370.2 480.0 373.0C473.5 375.8 464.4 377.9 456.6 380.0C448.8 382.1 440.0 384.1 433.0 385.7C426.0 387.3 419.5 388.3 414.6 389.5C409.7 390.7 407.7 391.8 403.8 392.7C399.9 393.6 395.5 393.6 391.3 395.0C387.1 396.4 382.5 398.3 378.9 401.0C375.3 403.7 372.0 407.0 369.5 411.0C367.0 415.0 364.9 422.7 364.0 425.0L364.0 425.0L371.9 426.0L371.9 426.0C372.4 424.6 373.3 420.5 375.0 417.5C376.7 414.5 379.3 410.6 382.0 408.0C384.7 405.4 388.0 403.4 391.3 402.0C394.6 400.6 398.6 400.0 402.0 399.7C405.4 399.4 408.8 399.6 412.0 400.0C415.2 400.4 418.9 401.5 421.0 402.0C423.1 402.5 424.2 402.7 424.8 402.8L424.8 402.8L433.0 406.7L433.0 406.7C435.6 405.6 443.7 402.6 448.9 400.4C454.1 398.2 459.2 395.7 464.4 393.4C469.6 391.1 475.4 389.0 480.0 386.4C484.6 383.8 488.7 380.6 492.0 378.0C495.3 375.4 495.8 374.7 500.0 371.0C504.2 367.3 511.5 361.0 517.0 356.0C522.5 351.0 528.6 344.8 533.0 341.0C537.4 337.2 541.8 334.3 543.6 333.0Z" fill="#7ab828" stroke="none" stroke-width="0" />
<path d="M364.0 425.0C364.9 422.7 367.0 415.0 369.5 411.0C372.0 407.0 375.3 403.7 378.9 401.0C382.5 398.3 387.1 396.4 391.3 395.0C395.5 393.6 401.7 393.1 403.8 392.7" fill="none" stroke="#000" stroke-width="1.2" />
<path d="M371.9 426.0C372.4 424.6 373.3 420.5 375.0 417.5C376.7 414.5 379.3 410.6 382.0 408.0C384.7 405.4 388.0 403.4 391.3 402.0C394.6 400.6 400.2 400.1 402.0 399.7" fill="none" stroke="#000" stroke-width="1" />
<path d="M539.0 318.0C538.3 319.3 536.6 322.9 534.7 326.0C532.8 329.1 531.2 332.5 527.6 336.7C524.0 340.9 518.3 346.6 513.0 351.0C507.7 355.4 501.1 359.3 495.6 363.0C490.1 366.7 486.5 370.2 480.0 373.0C473.5 375.8 464.4 377.9 456.6 380.0C448.8 382.1 440.0 384.1 433.0 385.7C426.0 387.3 417.7 388.9 414.6 389.5" fill="none" stroke="#000" stroke-width="0.9" />
<path d="M433.0 406.7C435.6 405.6 443.7 402.6 448.9 400.4C454.1 398.2 459.2 395.7 464.4 393.4C469.6 391.1 475.4 389.0 480.0 386.4C484.6 383.8 488.7 380.6 492.0 378.0C495.3 375.4 495.8 374.7 500.0 371.0C504.2 367.3 514.2 358.5 517.0 356.0" fill="none" stroke="#000" stroke-width="0.9" />
<path d="M295.0 481.0C296.3 478.7 299.3 473.3 303.0 467.0C306.7 460.7 312.0 449.7 317.0 443.0C322.0 436.3 329.2 430.2 333.0 427.0C336.8 423.8 336.8 425.4 340.0 423.8C343.2 422.2 348.5 420.1 352.4 417.5C356.3 414.9 361.5 409.6 363.3 408.0L363.3 408.0C363.8 406.0 366.4 400.4 366.4 395.8C366.4 391.2 363.8 382.8 363.3 380.2L363.3 380.2L374.2 380.2L374.2 380.2C373.6 382.8 371.2 391.4 370.3 395.8C369.4 400.2 369.7 402.3 368.8 406.7C367.9 411.1 365.5 418.4 364.9 422.0C364.2 425.6 364.9 427.3 364.9 428.4L364.9 428.4C367.2 427.9 374.5 426.4 378.9 425.3C383.3 424.2 387.9 423.3 391.3 422.0C394.7 420.7 397.2 420.1 399.0 417.5C400.8 414.9 401.5 411.1 402.0 406.7C402.5 402.3 402.2 394.5 402.0 391.0C401.8 387.5 400.8 386.6 400.6 385.7L400.6 385.7L406.9 380.0L406.9 380.0C407.9 381.8 411.2 386.8 413.0 391.0C414.8 395.2 416.6 399.3 417.8 405.0C419.0 410.7 419.9 417.0 420.0 425.0C420.1 433.0 419.0 444.3 418.5 453.0C418.0 461.7 416.6 471.0 417.0 477.0C417.4 483.0 418.8 484.8 421.0 489.0C423.2 493.2 426.8 497.5 430.0 502.0C433.2 506.5 437.2 511.7 440.0 516.0C442.8 520.3 445.5 524.5 447.0 528.0C448.5 531.5 448.7 535.5 449.0 537.0L449.0 537.0L444.0 544.0L444.0 544.0C444.0 543.2 445.2 541.7 444.0 539.0C442.8 536.3 439.3 531.0 437.0 528.0C434.7 525.0 432.7 523.0 430.0 521.0C427.3 519.0 423.3 518.2 421.0 516.0C418.7 513.8 416.8 509.3 416.0 508.0L416.0 508.0C414.7 510.2 411.0 517.3 408.0 521.0C405.0 524.7 402.2 527.0 398.0 530.0C393.8 533.0 388.3 537.0 383.0 539.0C377.7 541.0 371.8 541.8 366.0 542.0C360.2 542.2 353.7 541.2 348.0 540.0C342.3 538.8 337.2 537.7 332.0 535.0C326.8 532.3 321.8 528.7 317.0 524.0C312.2 519.3 306.3 512.7 303.0 507.0C299.7 501.3 298.3 494.3 297.0 490.0C295.7 485.7 295.3 482.5 295.0 481.0Z" fill="#c9b89d" stroke="#000" stroke-width="2.2" />
<path d="M330.0 463.0C331.7 461.2 336.8 455.7 340.0 452.0C343.2 448.3 345.2 444.7 349.0 441.0C352.8 437.3 358.0 432.6 363.0 430.0C368.0 427.4 376.2 426.1 378.9 425.3" fill="none" stroke="#000" stroke-width="2.6" />
<path d="M310.0 481.0C312.0 481.2 318.3 483.2 322.0 482.0C325.7 480.8 330.3 475.3 332.0 474.0" fill="none" stroke="#000" stroke-width="1.8" />
<path d="M427.0 402.0C425.3 405.0 420.2 414.2 417.0 420.0C413.8 425.8 410.5 430.3 408.0 437.0C405.5 443.7 403.7 452.3 402.0 460.0C400.3 467.7 399.2 475.8 398.0 483.0C396.8 490.2 396.3 496.5 395.0 503.0C393.7 509.5 391.7 516.0 390.0 522.0C388.3 528.0 386.8 533.2 385.0 539.0C383.2 544.8 380.8 551.2 379.0 557.0C377.2 562.8 375.5 568.2 374.0 574.0C372.5 579.8 370.3 588.0 370.0 592.0C369.7 596.0 371.7 597.0 372.0 598.0L372.0 598.0C372.8 596.7 375.4 594.0 377.0 590.0C378.6 586.0 379.8 579.5 381.5 574.0C383.2 568.5 385.2 562.8 387.0 557.0C388.8 551.2 390.2 545.0 392.0 539.0C393.8 533.0 396.2 527.0 398.0 521.0C399.8 515.0 401.5 509.3 403.0 503.0C404.5 496.7 405.7 490.2 407.0 483.0C408.3 475.8 409.3 467.7 411.0 460.0C412.7 452.3 414.5 444.2 417.0 437.0C419.5 429.8 422.8 423.3 426.0 417.0C429.2 410.7 434.3 402.0 436.0 399.0Z" fill="#7ab828" stroke="none" stroke-width="0" />
<path d="M427.0 402.0C425.3 405.0 420.2 414.2 417.0 420.0C413.8 425.8 410.5 430.3 408.0 437.0C405.5 443.7 403.7 452.3 402.0 460.0C400.3 467.7 399.2 475.8 398.0 483.0C396.8 490.2 396.3 496.5 395.0 503.0C393.7 509.5 391.7 516.0 390.0 522.0C388.3 528.0 386.8 533.2 385.0 539.0C383.2 544.8 380.8 551.2 379.0 557.0C377.2 562.8 375.5 568.2 374.0 574.0C372.5 579.8 370.3 588.0 370.0 592.0C369.7 596.0 371.7 597.0 372.0 598.0" fill="none" stroke="#000" stroke-width="1" />
<path d="M372.0 598.0C372.8 596.7 375.4 594.0 377.0 590.0C378.6 586.0 379.8 579.5 381.5 574.0C383.2 568.5 385.2 562.8 387.0 557.0C388.8 551.2 390.2 545.0 392.0 539.0C393.8 533.0 396.2 527.0 398.0 521.0C399.8 515.0 401.5 509.3 403.0 503.0C404.5 496.7 405.7 490.2 407.0 483.0C408.3 475.8 409.3 467.7 411.0 460.0C412.7 452.3 414.5 444.2 417.0 437.0C419.5 429.8 424.5 420.3 426.0 417.0" fill="none" stroke="#000" stroke-width="1" />
<path d="M421.0 420.0C419.3 425.0 413.8 439.5 411.0 450.0C408.2 460.5 406.0 473.0 404.0 483.0C402.0 493.0 401.0 501.3 399.0 510.0C397.0 518.7 394.3 526.7 392.0 535.0C389.7 543.3 387.3 552.5 385.0 560.0C382.7 567.5 379.8 574.3 378.0 580.0C376.2 585.7 374.7 591.7 374.0 594.0" fill="none" stroke="#fff" stroke-width="1.6" />
<line x1="367" y1="312" x2="458" y2="380" stroke="#000" stroke-width="1.1"/>
<line x1="247" y1="520" x2="337" y2="506" stroke="#000" stroke-width="1.1"/>
<line x1="568" y1="395" x2="728" y2="513" stroke="#000" stroke-width="1.1"/>
<line x1="744" y1="563" x2="730" y2="747" stroke="#000" stroke-width="1.1"/>
<line x1="335" y1="731" x2="537" y2="724" stroke="#000" stroke-width="1.1"/>
<line x1="437" y1="922" x2="572" y2="933" stroke="#000" stroke-width="1.1"/>
<text x="220.6" y="273.2" font-size="26.7" fill="#3aaa35">superior</text>
<text x="220.6" y="305.1" font-size="26.7" fill="#3aaa35">laryngeal</text>
<text x="220.6" y="336.7" font-size="26.7" fill="#3aaa35">nerve</text>
<text x="140.5" y="534.5" font-size="26.7" fill="#7b6b5f">larynx</text>
<text x="715.3" y="543.5" font-size="26.7" fill="#f39200">vagus nerve</text>
<text x="544" y="625.6" font-size="20" fill="#95288c">to esophagus</text>
<text x="331" y="667" font-size="20" fill="#95288c">to trachea</text>
<text x="147" y="729" font-size="26.7" fill="#95288c">left recurrent</text>
<text x="147" y="760" font-size="26.7" fill="#95288c">laryngeal nerve</text>
<text x="269" y="923" font-size="26.7" fill="#be1622">aortic arch</text>
</svg>
</body></html>
